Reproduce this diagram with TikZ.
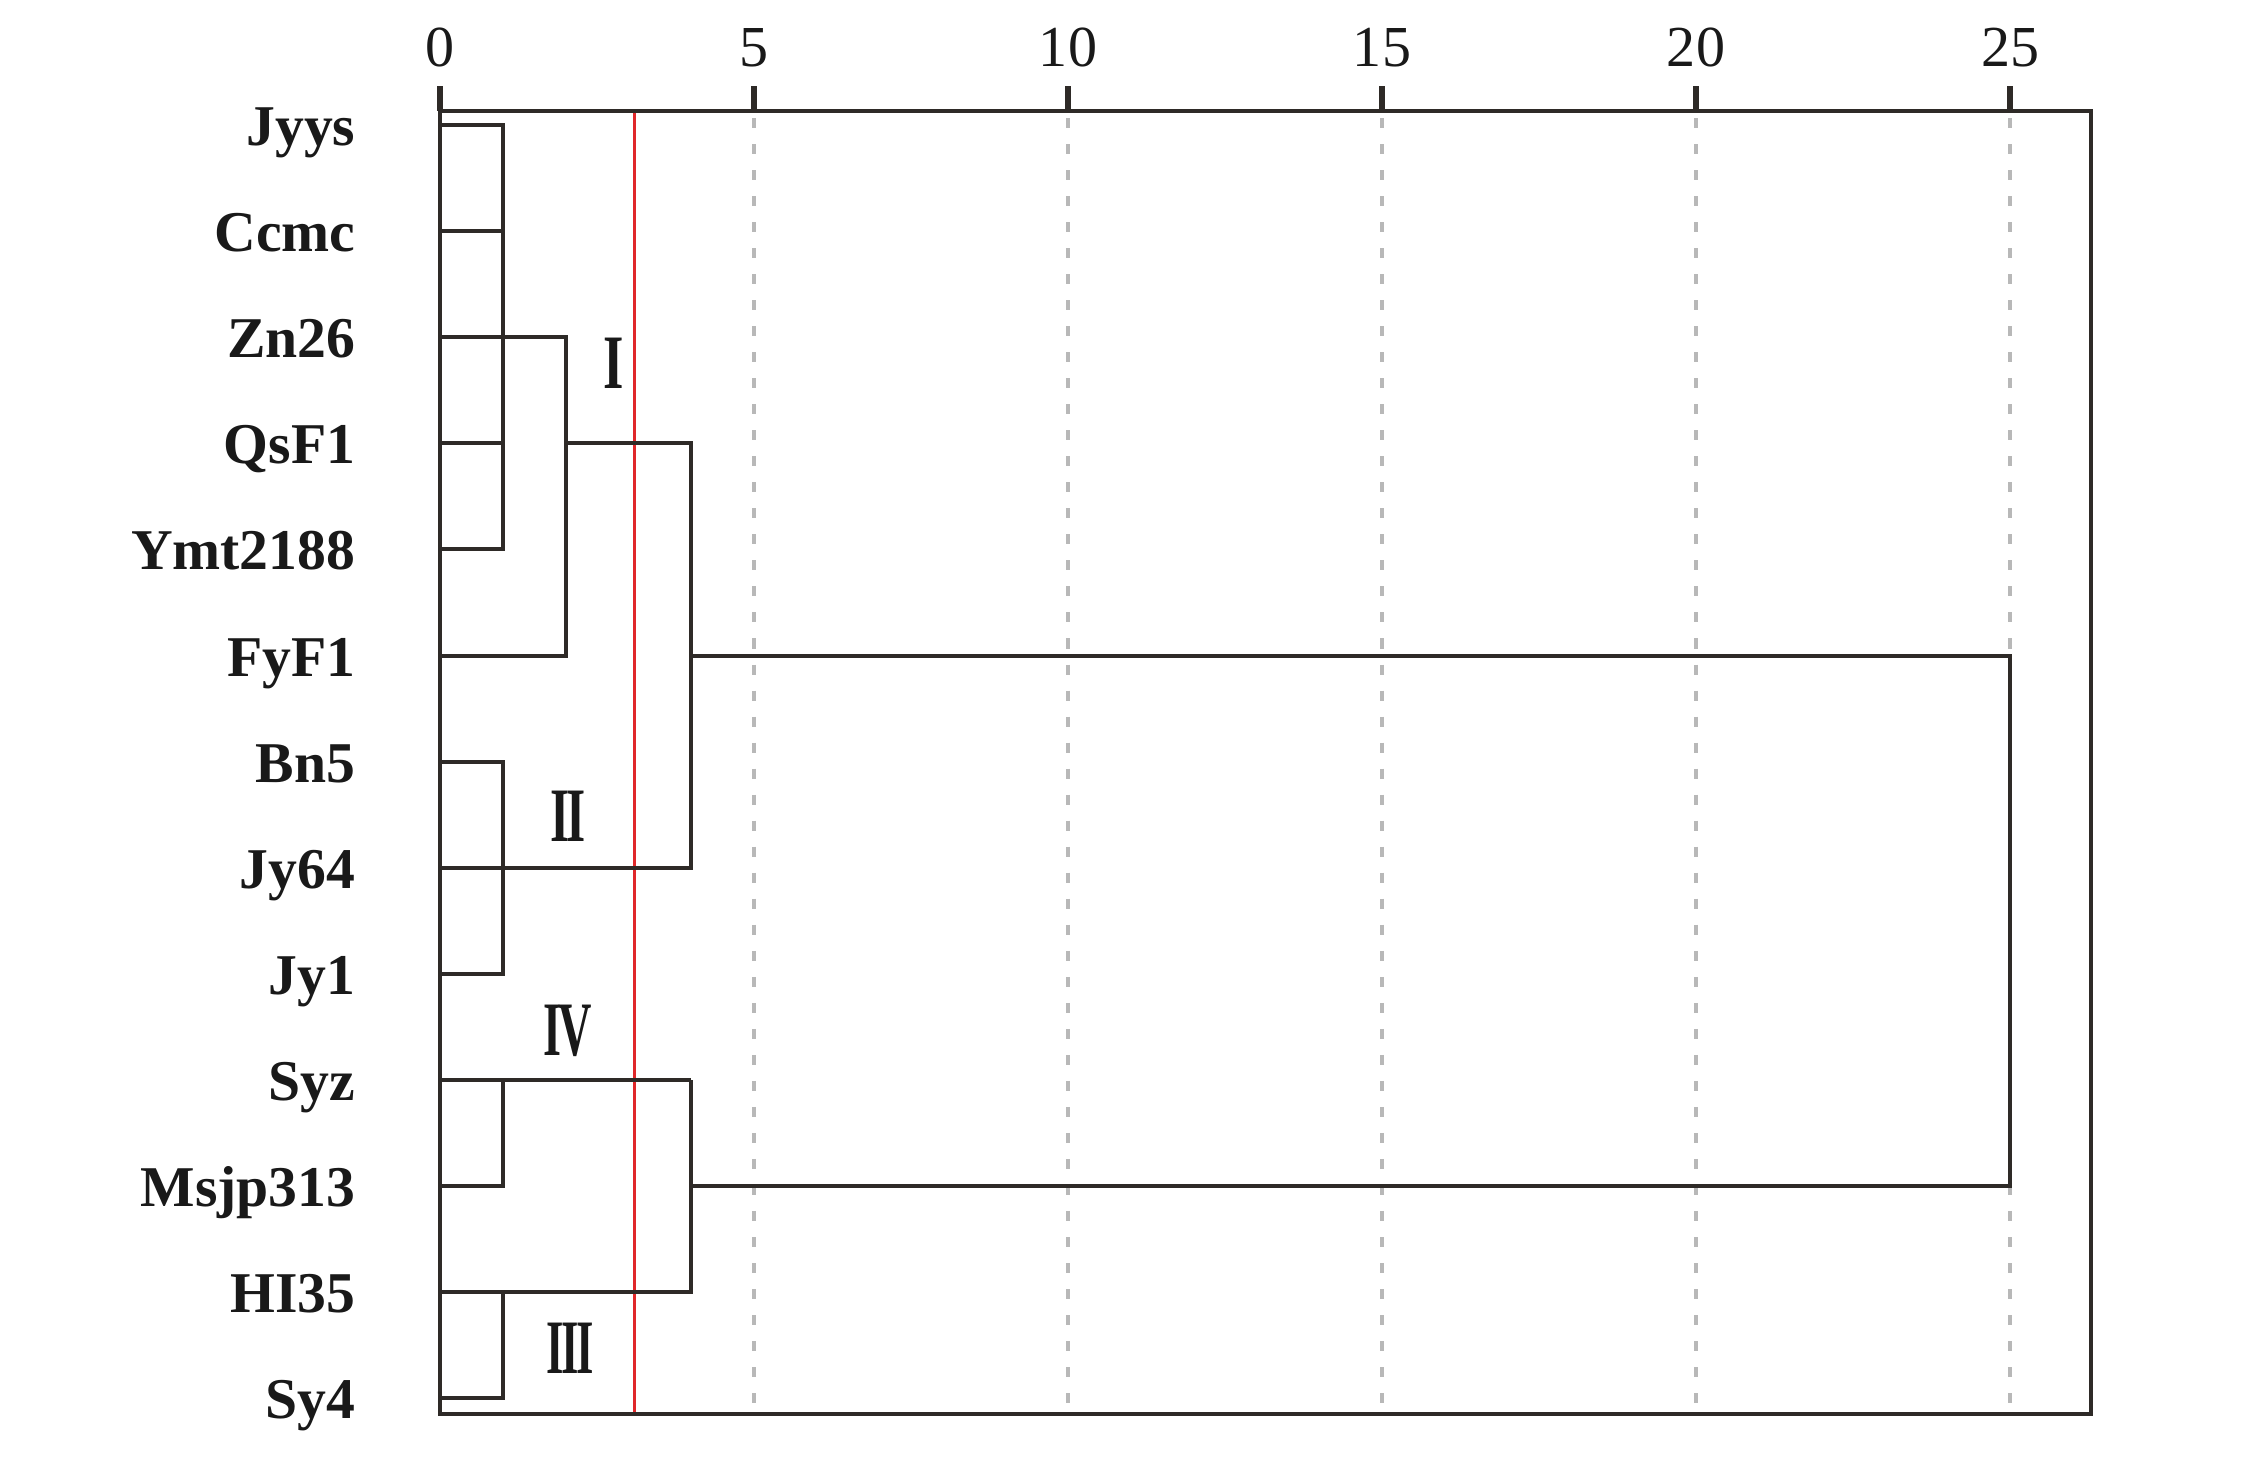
\documentclass[tikz,border=0pt]{standalone}
\usepackage{fontspec}
\setmainfont{Liberation Serif}
\definecolor{ink}{HTML}{2E2A27}
\definecolor{gridgray}{HTML}{B8B8B8}
\definecolor{cutred}{HTML}{E0282A}
\newcommand{\rmnI}{I}
\newcommand{\rmnII}{I\kern-0.06em I}
\newcommand{\rmnIII}{I\kern-0.06em I\kern-0.06em I}
\newcommand{\rmnIV}{I\kern-0.07em V}
\begin{document}
\begin{tikzpicture}[x=0.01cm,y=-0.01cm,
  dend/.style={draw=ink, line width=1.15pt, line join=miter},
  frame/.style={draw=ink, line width=1.3pt, line join=miter},
  tickmark/.style={draw=ink, line width=1.6pt},
  gridline/.style={draw=gridgray, line width=0.9pt, dash pattern=on 2.85pt off 4.55pt},
  cutline/.style={draw=cutred, line width=0.75pt},
  ticklab/.style={font=\fontsize{16.5pt}{18pt}\selectfont, inner sep=0pt, anchor=base, text=black!90},
  leaflab/.style={font=\fontsize{16.4pt}{18pt}\selectfont\bfseries, inner sep=0pt, anchor=base east, text=black!90},
  romlab/.style={font=\fontsize{21.9pt}{24pt}\selectfont\bfseries, inner sep=0pt, anchor=center, text=black!90}]
\useasboundingbox (0,0) rectangle (2256,1465);

% grid lines
\foreach \v/\xx in {5/754,10/1068,15/1382,20/1696,25/2010} {
  \coordinate (gt\v) at (\xx,118);
  \coordinate (gb\v) at (\xx,1414);
  \draw[gridline] (gt\v) -- (gb\v);
}

% cut line
\coordinate (cutTop) at (634.7,111);
\coordinate (cutBot) at (634.7,1414);
\draw[cutline] (cutTop) -- (cutBot);

% leaves
\foreach \i/\yy/\name in {0/125/Jyys,1/231/Ccmc,2/337/Zn26,3/443/QsF1,4/549/Ymt2188,5/656/FyF1,6/762/Bn5,7/868/Jy64,8/974/Jy1,9/1080/Syz,10/1186/Msjp313,11/1292/HI35,12/1398/Sy4} {
  \coordinate (L\i) at (440,\yy);
  \node[leaflab] (n\i) at (356,\yy+20) {\name};
}

% merge points
\coordinate (c1) at (502.8,337);
\coordinate (c2) at (565.6,443);
\coordinate (c3) at (502.8,868);
\coordinate (c4) at (691.2,656);
\coordinate (c5) at (502.8,1080);
\coordinate (c6) at (502.8,1292);
\coordinate (c7) at (691.2,1186);
\coordinate (c8) at (2010,656);

% cluster I
\draw[dend] (L0) -| (c1 |- L4) -- (L4);
\draw[dend] (L1) -- (c1 |- L1);
\draw[dend] (L2) -- (c1);
\draw[dend] (L3) -- (c1 |- L3);
\draw[dend] (c1) -| (c2 |- L5) -- (L5);
% cluster II
\draw[dend] (L6) -| (c3 |- L8) -- (L8);
\draw[dend] (L7) -- (c3);
% I + II
\draw[dend] (c2) -| (c4 |- c3) -- (c3);
% cluster IV
\draw[dend] (L9) -- (c7 |- L9);
\draw[dend] (c5) |- (L10);
% cluster III
\draw[dend] (c6) |- (L12);
% IV + III
\draw[dend] (c7 |- L9) -- (c7 |- L11) -- (L11);
% top merge
\draw[dend] (c4) -| (c8 |- c7) -- (c7);

% frame and ticks
\coordinate (fTL) at (440,111);
\coordinate (fTR) at (2091,111);
\coordinate (fBR) at (2091,1414);
\coordinate (fBL) at (440,1414);
\draw[frame] (fBL) -- (fTL) -- (fTR) -- (fBR) -- cycle;
\foreach \v/\xx in {0/440,5/754,10/1068,15/1382,20/1696,25/2010} {
  \coordinate (tk\v) at (\xx,86);
  \coordinate (tb\v) at (\xx,111);
  \draw[tickmark] (tk\v) -- (tb\v);
  \node[ticklab] (t\v) at (\xx,66) {\v};
}

% cluster labels
\node[romlab] (rI) at (613.5,363) {\scalebox{0.68}[1]{\rmnI}};
\node[romlab] (rII) at (568,816) {\scalebox{0.64}[1]{\rmnII}};
\node[romlab] (rIV) at (568,1031) {\scalebox{0.6}[1]{\rmnIV}};
\node[romlab] (rIII) at (570,1348) {\scalebox{0.58}[1]{\rmnIII}};
\end{tikzpicture}
\end{document}
